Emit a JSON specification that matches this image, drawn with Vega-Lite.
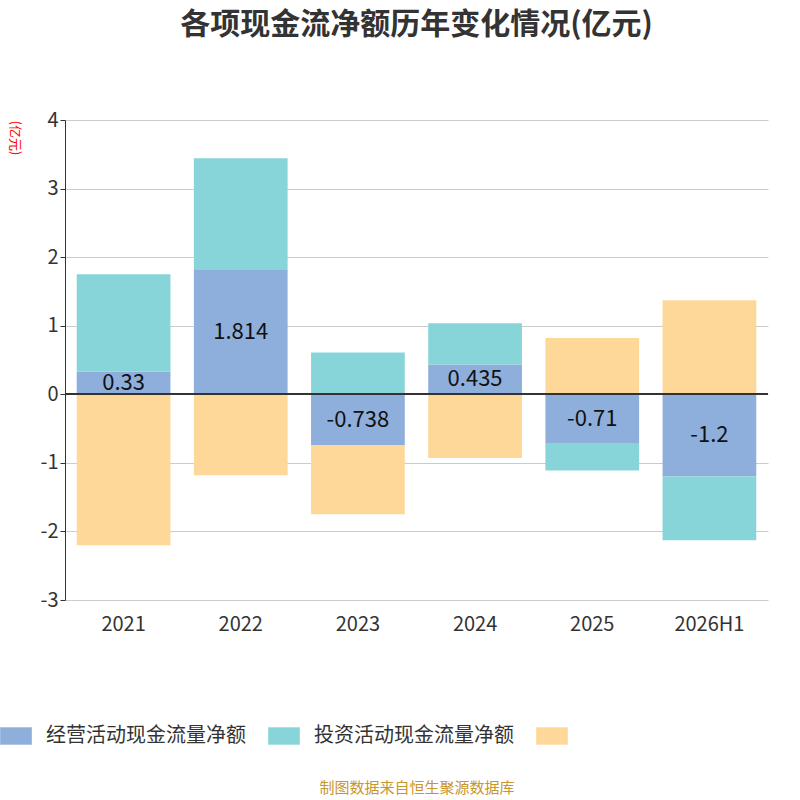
{
  "$schema": "https://vega.github.io/schema/vega-lite/v6.json",
  "autosize": "none",
  "width": 703,
  "height": 480,
  "padding": {"left": 65, "top": 120, "right": 32, "bottom": 200},
  "title": {"text": "各项现金流净额历年变化情况(亿元)", "fontSize": 30, "fontWeight": "bold", "color": "#333333", "offset": 70, "anchor": "middle", "font": "Noto Sans CJK SC"},
  "data": {"values": [
    {"year": "2021", "type": "经营活动现金流量净额", "ord": 1, "v": 0.33},
    {"year": "2021", "type": "投资活动现金流量净额", "ord": 2, "v": 1.42},
    {"year": "2021", "type": "筹资活动现金流量净额", "ord": 3, "v": -2.2},
    {"year": "2022", "type": "经营活动现金流量净额", "ord": 1, "v": 1.814},
    {"year": "2022", "type": "投资活动现金流量净额", "ord": 2, "v": 1.63},
    {"year": "2022", "type": "筹资活动现金流量净额", "ord": 3, "v": -1.18},
    {"year": "2023", "type": "经营活动现金流量净额", "ord": 1, "v": -0.738},
    {"year": "2023", "type": "投资活动现金流量净额", "ord": 2, "v": 0.61},
    {"year": "2023", "type": "筹资活动现金流量净额", "ord": 3, "v": -1.01},
    {"year": "2024", "type": "经营活动现金流量净额", "ord": 1, "v": 0.435},
    {"year": "2024", "type": "投资活动现金流量净额", "ord": 2, "v": 0.6},
    {"year": "2024", "type": "筹资活动现金流量净额", "ord": 3, "v": -0.93},
    {"year": "2025", "type": "经营活动现金流量净额", "ord": 1, "v": -0.71},
    {"year": "2025", "type": "投资活动现金流量净额", "ord": 2, "v": -0.4},
    {"year": "2025", "type": "筹资活动现金流量净额", "ord": 3, "v": 0.82},
    {"year": "2026H1", "type": "经营活动现金流量净额", "ord": 1, "v": -1.2},
    {"year": "2026H1", "type": "投资活动现金流量净额", "ord": 2, "v": -0.93},
    {"year": "2026H1", "type": "筹资活动现金流量净额", "ord": 3, "v": 1.37}
  ]},
  "encoding": {
    "x": {"field": "year", "type": "nominal", "sort": null, "scale": {"paddingInner": 0.2, "paddingOuter": 0.1},
      "axis": {"labelAngle": 0, "labelFontSize": 20, "labelColor": "#333333", "labelPadding": 14, "ticks": false, "domain": false,
        "title": "制图数据来自恒生聚源数据库", "titleColor": "#c8962c", "titleFontSize": 15, "titleFontWeight": "normal", "titlePadding": 146}}
  },
  "layer": [
    {
      "mark": {"type": "bar"},
      "encoding": {
        "y": {"field": "v", "type": "quantitative", "stack": "zero", "scale": {"domain": [-3, 4]},
          "axis": {"tickCount": 7, "labelFontSize": 20, "labelColor": "#333333", "labelExpr": "toString(datum.value)", "grid": true, "gridColor": "#cccccc", "domainColor": "#333333", "tickColor": "#333333",
            "title": "(亿元)", "titleColor": "red", "titleFontSize": 13, "titleFontWeight": "normal", "titleAngle": 90, "titleAlign": "left", "titleBaseline": "bottom", "titleX": -58, "titleY": 0}},
        "color": {"field": "type", "type": "nominal",
          "scale": {"domain": ["经营活动现金流量净额", "投资活动现金流量净额", "筹资活动现金流量净额"], "range": ["#8eaedb", "#88d5d9", "#fed898"]},
          "legend": {"orient": "none", "legendX": -65, "legendY": 600, "direction": "horizontal", "title": null, "labelLimit": 400,
            "labelFontSize": 20, "labelColor": "#333333", "symbolType": "M-1,-0.55 L1,-0.55 L1,0.55 L-1,0.55 Z", "symbolSize": 1000, "symbolOpacity": 1, "symbolStrokeWidth": 0,
            "columnPadding": 22, "labelOffset": 14, "labelExpr": "datum.label == '筹资活动现金流量净额' ? '' : datum.label"}},
        "order": {"field": "ord", "type": "quantitative"}
      }
    },
    {
      "mark": {"type": "rule", "color": "#333333", "strokeWidth": 1.5},
      "encoding": {"x": null, "y": {"datum": 0, "type": "quantitative"}}
    },
    {
      "transform": [{"filter": "datum.ord == 1"}, {"calculate": "datum.v / 2", "as": "mid"}, {"calculate": "toString(datum.v)", "as": "lbl"}],
      "mark": {"type": "text", "fontSize": 22, "color": "#111111"},
      "encoding": {"y": {"field": "mid", "type": "quantitative"}, "text": {"field": "lbl", "type": "nominal"}}
    }
  ],
  "config": {"font": "Noto Sans CJK SC", "view": {"stroke": null}}
}
